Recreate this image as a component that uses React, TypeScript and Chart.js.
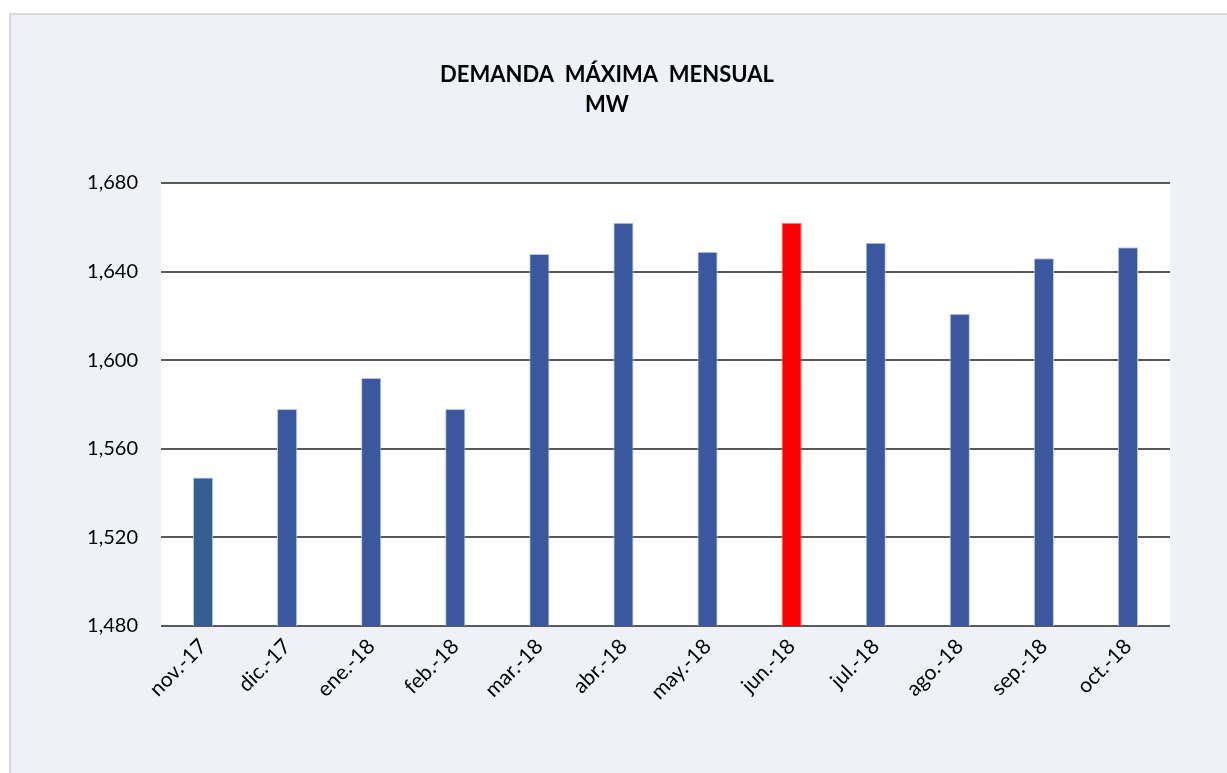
import React, { useEffect, useRef } from "react";
import { Chart, registerables } from "chart.js";

Chart.register(...registerables);

const titleLines = ["DEMANDA  MÁXIMA  MENSUAL", "MW"];
const categories = ["nov.-17", "dic.-17", "ene.-18", "feb.-18", "mar.-18", "abr.-18", "may.-18", "jun.-18", "jul.-18", "ago.-18", "sep.-18", "oct.-18"];
const values = [1547, 1578, 1592, 1578, 1648, 1662, 1649, 1662, 1653, 1621, 1646, 1651];
const barColors = ["#365F91", "#3B579D", "#3B579D", "#3B579D", "#3B579D", "#3B579D", "#3B579D", "#FF0000", "#3B579D", "#3B579D", "#3B579D", "#3B579D"];
const borderColors = ["#B7C9E4", "#B7C9E4", "#B7C9E4", "#B7C9E4", "#B7C9E4", "#B7C9E4", "#B7C9E4", "#FF7A7A", "#B7C9E4", "#B7C9E4", "#B7C9E4", "#B7C9E4"];
const yMin = 1480;
const yMax = 1680;
const yStep = 40;

const CW = 1236;
const CH = 796;

export default function App() {
  const ref = useRef<HTMLCanvasElement | null>(null);
  useEffect(() => {
    if (!ref.current) return;
    const bgPlugin = {
      id: "bgPlugin",
      beforeDraw(chart: any) {
        const { ctx, chartArea } = chart;
        ctx.save();
        ctx.fillStyle = "#FFFFFF";
        ctx.fillRect(chartArea.left, chartArea.top, chartArea.right - chartArea.left, chartArea.bottom - chartArea.top);
        ctx.restore();
      },
      afterDraw(chart: any) {
        const { ctx } = chart;
        ctx.save();
        ctx.fillStyle = "#000000";
        ctx.font = "bold 22px Lato";
        ctx.textAlign = "center";
        ctx.textBaseline = "middle";
        ctx.fillText(titleLines[0], 596, 60);
        ctx.fillText(titleLines[1], 596, 90);
        ctx.restore();
      },
    };
    const chart = new Chart(ref.current, {
      type: "bar",
      data: {
        labels: categories,
        datasets: [
          {
            data: values,
            backgroundColor: barColors,
            borderColor: borderColors,
            borderWidth: 1,
            barPercentage: 0.24,
            categoryPercentage: 1,
          },
        ],
      },
      options: {
        responsive: false,
        animation: false,
        devicePixelRatio: 1,
        layout: { padding: { top: 168, left: 40, right: 77, bottom: 85 } },
        plugins: { legend: { display: false }, title: { display: false }, tooltip: { enabled: false } },
        scales: {
          x: {
            grid: { display: false, drawTicks: false },
            border: { display: false },
            ticks: {
              autoSkip: false,
              maxRotation: 45,
              minRotation: 45,
              padding: 8,
              color: "#000000",
              font: { family: "Lato", size: 21 },
            },
            afterFit(scale: any) {
              scale.height = 100;
            },
          },
          y: {
            min: yMin,
            max: yMax,
            grid: { color: "#595959", lineWidth: 2, drawTicks: false },
            border: { display: false },
            ticks: {
              stepSize: yStep,
              padding: 23,
              color: "#000000",
              font: { family: "Lato", size: 20 },
              callback: (v: any) => Number(v).toLocaleString("en-US"),
            },
            afterFit(scale: any) {
              scale.width = 110;
            },
          },
        },
      },
      plugins: [bgPlugin],
    });
    return () => chart.destroy();
  }, []);
  return (
    <div
      style={{
        position: "fixed",
        left: 9,
        top: 13,
        width: CW,
        height: CH,
        border: "2px solid #D9D9D9",
        background: "#EEF2F6",
      }}
    >
      <canvas ref={ref} width={CW} height={CH} style={{ display: "block", width: CW, height: CH }} />
    </div>
  );
}
